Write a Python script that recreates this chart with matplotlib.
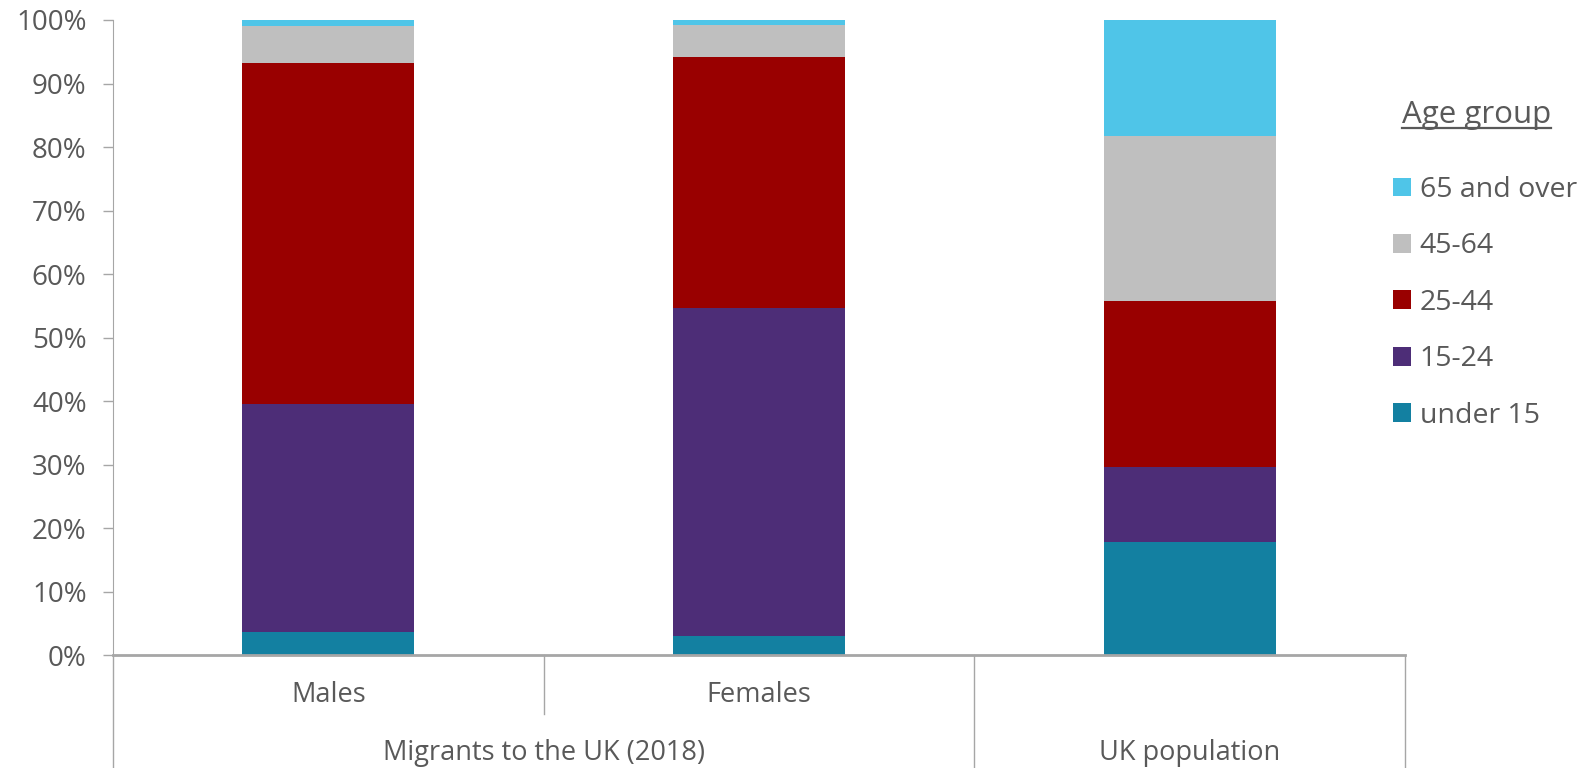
import matplotlib
matplotlib.use("Agg")
import matplotlib.pyplot as plt
from matplotlib.patches import Patch
from matplotlib.lines import Line2D
import numpy as np

plt.rcParams['font.family'] = ['Open Sans', 'DejaVu Sans']

categories = ["Males", "Females", "UK population"]
groups = ["Migrants to the UK (2018)", "UK population"]
age_groups = ["under 15", "15-24", "25-44", "45-64", "65 and over"]
colors = ["#1380a1", "#4d2d77", "#990000", "#bfbfbf", "#4fc5e8"]

under15 = [3.7, 3.0, 17.9]
age15_24 = [35.8, 51.7, 11.8]
age25_44 = [53.8, 39.5, 26.1]
age45_64 = [5.8, 5.0, 25.9]
over65 = [0.9, 0.8, 18.3]
series = [under15, age15_24, age25_44, age45_64, over65]

txt = "#595959"
grey = "#a6a6a6"

fig = plt.figure(figsize=(15.87, 7.68), dpi=100)
ax = fig.add_axes([0.0712, 0.1465, 0.8141, 0.8275])

x = np.arange(len(categories))
bottom = np.zeros(len(categories))
for vals, c, lab in zip(series, colors, age_groups):
    ax.bar(x, vals, 0.4, bottom=bottom, color=c, label=lab, edgecolor="none")
    bottom += np.array(vals)

ax.set_xlim(-0.5, 2.5)
ax.set_ylim(0, 100)
ax.set_yticks(np.arange(0, 101, 10))
ax.set_yticklabels([f"{v}%" for v in range(0, 101, 10)])
ax.tick_params(axis="y", colors=grey, labelcolor=txt, labelsize=20, length=7, width=1, pad=12)
ax.set_xticks([])
for s in ["top", "right"]:
    ax.spines[s].set_visible(False)
ax.spines["left"].set_color(grey)
ax.spines["bottom"].set_color(grey)
ax.spines["bottom"].set_linewidth(2)

# category separators below the axis
trans = ax.get_xaxis_transform()
for xs, ybot in [(-0.5, -0.177), (0.5, -0.0913), (1.5, -0.177), (2.5, -0.177)]:
    ax.plot([xs, xs], [0, ybot], transform=trans, color=grey, lw=1, clip_on=False)

for xi, lab in zip(x[:2], categories[:2]):
    ax.text(xi, -0.062, lab, transform=trans, ha="center", va="center", fontsize=19.5, color=txt)
ax.text(0.5, -0.153, groups[0], transform=trans, ha="center", va="center", fontsize=19.5, color=txt)
ax.text(2, -0.153, groups[1], transform=trans, ha="center", va="center", fontsize=19.5, color=txt)

# legend
handles = [Patch(facecolor=c, edgecolor="none") for c in colors][::-1]
ax.legend(handles, age_groups[::-1], loc="upper left", bbox_to_anchor=(0.878, 0.771),
          bbox_transform=fig.transFigure, frameon=False, fontsize=20.5, labelcolor=txt,
          handlelength=0.63, handleheight=0.63, handletextpad=0.3, labelspacing=1.0,
          borderaxespad=0, borderpad=0)
title = fig.text(0.8835, 0.84, "Age group", fontsize=22.5, color=txt, ha="left", va="baseline")
fig.canvas.draw()
bb = title.get_window_extent().transformed(fig.transFigure.inverted())
fig.add_artist(Line2D([bb.x0, bb.x1], [0.833, 0.833], color=txt, lw=1.6,
                      transform=fig.transFigure))

fig.savefig("out.png", dpi=100)
